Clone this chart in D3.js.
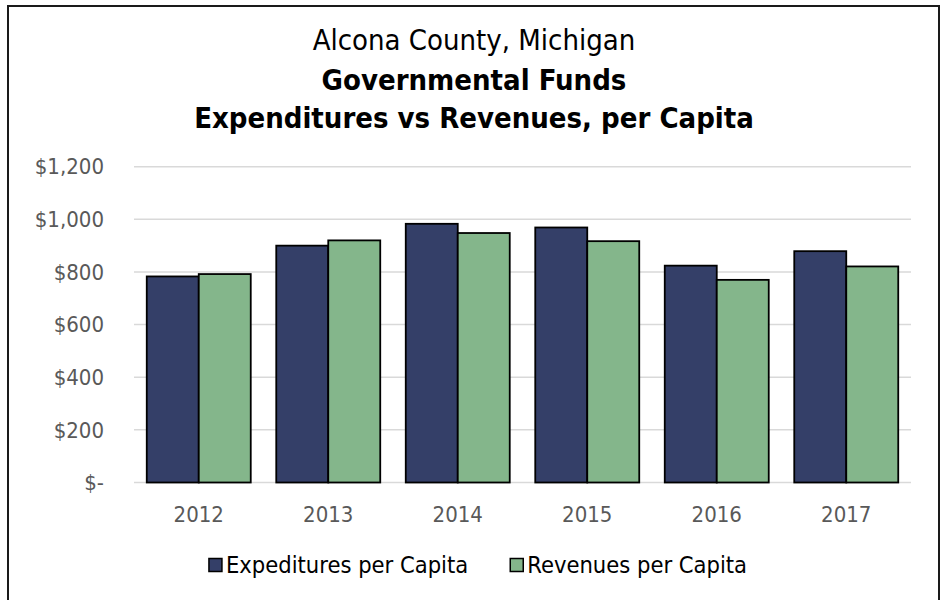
<!DOCTYPE html>
<html>
<head>
<meta charset="utf-8">
<script src="https://cdn.jsdelivr.net/npm/d3@7"></script>
<style>
  body { margin: 0; background: #fff; }
  svg text { font-family: "DejaVu Sans Condensed", "DejaVu Sans", sans-serif; font-stretch: condensed; }
</style>
</head>
<body>
<div id="chart"></div>
<script>
// values
const years = ["2012", "2013", "2014", "2015", "2016", "2017"];
const expenditures = [783, 900, 983, 969, 824, 879];
const revenues = [792, 920, 948, 917, 770, 821];
const seriesNames = ["Expeditures per Capita", "Revenues per Capita"];
const seriesColors = ["#343f68", "#84b68b"];
const yTicks = [0, 200, 400, 600, 800, 1000, 1200];
const titleLines = ["Alcona County, Michigan", "Governmental Funds", "Expenditures vs Revenues, per Capita"];

const width = 940, height = 600;
const plot = { left: 134, right: 911, top: 166.7, bottom: 482.5 };

const svg = d3.select("#chart").append("svg")
  .attr("width", width)
  .attr("height", height);

// outer frame
svg.append("rect")
  .attr("x", 8).attr("y", 6)
  .attr("width", 931).attr("height", 620)
  .attr("fill", "none")
  .attr("stroke", "#1a1a1a")
  .attr("stroke-width", 2);

// title
svg.selectAll("text.title")
  .data(titleLines)
  .join("text")
  .attr("class", "title")
  .attr("x", 474)
  .attr("y", (d, i) => [50, 90, 128][i])
  .attr("text-anchor", "middle")
  .attr("font-size", 29)
  .attr("font-weight", (d, i) => i === 0 ? "normal" : "bold")
  .attr("fill", "#000")
  .text(d => d);

const x = d3.scaleBand()
  .domain(years)
  .range([plot.left, plot.right])
  .paddingInner(0.197)
  .paddingOuter(0.0985);

const xSub = d3.scaleBand()
  .domain([0, 1])
  .range([0, x.bandwidth()]);

const y = d3.scaleLinear()
  .domain([0, 1200])
  .range([plot.bottom, plot.top]);

// gridlines
svg.append("g")
  .selectAll("line")
  .data(yTicks)
  .join("line")
  .attr("x1", plot.left)
  .attr("x2", plot.right)
  .attr("y1", d => y(d))
  .attr("y2", d => y(d))
  .attr("stroke", "#d9d9d9")
  .attr("stroke-width", 1.5);

// y labels
const fmt = d => d === 0 ? "$-" : "$" + d3.format(",")(d);
svg.append("g")
  .selectAll("text")
  .data(yTicks)
  .join("text")
  .attr("x", 104)
  .attr("y", d => y(d))
  .attr("dy", "0.35em")
  .attr("text-anchor", "end")
  .attr("font-size", 22)
  .attr("fill", "#595959")
  .text(fmt);

// bars
const rows = years.map((yr, i) => ({ year: yr, values: [expenditures[i], revenues[i]] }));
const groups = svg.append("g")
  .selectAll("g")
  .data(rows)
  .join("g")
  .attr("transform", d => `translate(${x(d.year)},0)`);

groups.selectAll("rect")
  .data(d => d.values.map((v, k) => ({ k, v })))
  .join("rect")
  .attr("x", d => xSub(d.k))
  .attr("width", xSub.bandwidth())
  .attr("y", d => y(d.v))
  .attr("height", d => y(0) - y(d.v))
  .attr("fill", d => seriesColors[d.k])
  .attr("stroke", "#000")
  .attr("stroke-width", 1.8);

// x labels
svg.append("g")
  .selectAll("text")
  .data(years)
  .join("text")
  .attr("x", d => x(d) + x.bandwidth() / 2)
  .attr("y", 522)
  .attr("text-anchor", "middle")
  .attr("font-size", 22)
  .attr("fill", "#595959")
  .text(d => d);

// legend
const legend = svg.append("g");
const items = legend.selectAll("g")
  .data(seriesNames)
  .join("g");
items.append("rect")
  .attr("width", 13)
  .attr("height", 13)
  .attr("y", 558.5)
  .attr("fill", (d, i) => seriesColors[i])
  .attr("stroke", "#000")
  .attr("stroke-width", 1.5);
items.append("text")
  .attr("x", 17)
  .attr("y", 573)
  .attr("font-size", 23.5)
  .attr("fill", "#000")
  .text(d => d);

let offset = 0;
const widths = [];
items.each(function () {
  widths.push(d3.select(this).select("text").node().getComputedTextLength() + 17);
});
const gap = 42;
const total = d3.sum(widths) + gap * (widths.length - 1);
const start = 478 - total / 2;
items.attr("transform", (d, i) => {
  const tx = start + offset;
  offset += widths[i] + gap;
  return `translate(${tx},0)`;
});
</script>
</body>
</html>
